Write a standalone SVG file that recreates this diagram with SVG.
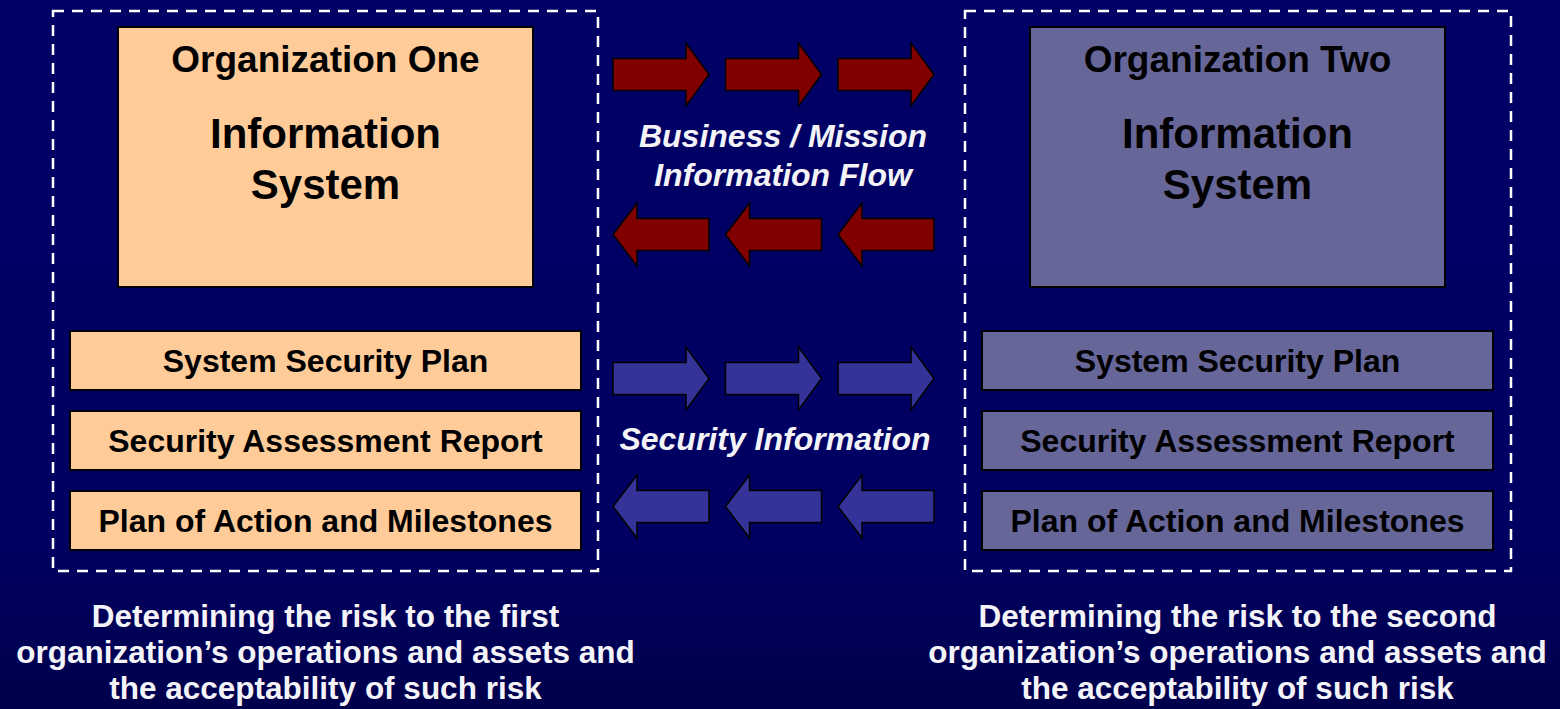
<svg xmlns="http://www.w3.org/2000/svg" xmlns:xlink="http://www.w3.org/1999/xlink" width="1560" height="709" viewBox="0 0 1560 709">
  <style>
    .dash { fill: none; stroke: #ffffff; stroke-width: 2.5; stroke-dasharray: 11 8; }
    .org1 { fill: #ffcc99; stroke: #000000; stroke-width: 2; }
    .org2 { fill: #666699; stroke: #000000; stroke-width: 2; }
    .t { font-family: "Liberation Sans", Arial, sans-serif; font-weight: bold; text-anchor: middle; }
    .black { fill: #000000; }
    .white { fill: #f4f4f8; }
    .red { fill: #800000; stroke: #000000; stroke-width: 1.5; stroke-linejoin: miter; }
    .blue { fill: #333399; stroke: #000000; stroke-width: 1.5; stroke-linejoin: miter; }
  </style>
  <defs>
    <linearGradient id="bg" x1="0" y1="0" x2="0" y2="1">
      <stop offset="0" stop-color="#000066"/>
      <stop offset="0.75" stop-color="#000062"/>
      <stop offset="1" stop-color="#00004c"/>
    </linearGradient>
    <path id="arrR" d="M0,-16 H73 V-31.5 L96,0 L73,31.5 V16 H0 Z"/>
    <path id="arrL" d="M0,0 L24,-31.5 V-16 H96 V16 H24 V31.5 Z"/>
  </defs>
  <rect x="0" y="0" width="1560" height="709" fill="url(#bg)"/>

  <g id="org1-boundary">
    <rect class="dash" x="53" y="11" width="545" height="560"/>
  </g>
  <g id="org2-boundary">
    <rect class="dash" x="965" y="11" width="546" height="560"/>
  </g>

  <g id="org1-system">
    <rect class="org1" x="118" y="27" width="415" height="260"/>
    <text class="t black" x="325.5" y="72" font-size="37">Organization One</text>
    <text class="t black" x="325.5" y="148" font-size="42">Information</text>
    <text class="t black" x="325.5" y="199" font-size="42">System</text>
  </g>
  <g id="org1-ssp">
    <rect class="org1" x="70" y="331" width="511" height="59"/>
    <text class="t black" x="325.5" y="372" font-size="32">System Security Plan</text>
  </g>
  <g id="org1-sar">
    <rect class="org1" x="70" y="411" width="511" height="59"/>
    <text class="t black" x="325.5" y="452" font-size="32">Security Assessment Report</text>
  </g>
  <g id="org1-poam">
    <rect class="org1" x="70" y="491" width="511" height="59"/>
    <text class="t black" x="325.5" y="532" font-size="32">Plan of Action and Milestones</text>
  </g>

  <g id="org2-system">
    <rect class="org2" x="1030" y="27" width="415" height="260"/>
    <text class="t black" x="1237.5" y="72" font-size="37">Organization Two</text>
    <text class="t black" x="1237.5" y="148" font-size="42">Information</text>
    <text class="t black" x="1237.5" y="199" font-size="42">System</text>
  </g>
  <g id="org2-ssp">
    <rect class="org2" x="982" y="331" width="511" height="59"/>
    <text class="t black" x="1237.5" y="372" font-size="32">System Security Plan</text>
  </g>
  <g id="org2-sar">
    <rect class="org2" x="982" y="411" width="511" height="59"/>
    <text class="t black" x="1237.5" y="452" font-size="32">Security Assessment Report</text>
  </g>
  <g id="org2-poam">
    <rect class="org2" x="982" y="491" width="511" height="59"/>
    <text class="t black" x="1237.5" y="532" font-size="32">Plan of Action and Milestones</text>
  </g>

  <g id="connectors">
    <use xlink:href="#arrR" href="#arrR" class="red" transform="translate(613,74.5)"/>
    <use xlink:href="#arrR" href="#arrR" class="red" transform="translate(725.5,74.5)"/>
    <use xlink:href="#arrR" href="#arrR" class="red" transform="translate(838,74.5)"/>
    <use xlink:href="#arrL" href="#arrL" class="red" transform="translate(613,234.5)"/>
    <use xlink:href="#arrL" href="#arrL" class="red" transform="translate(725.5,234.5)"/>
    <use xlink:href="#arrL" href="#arrL" class="red" transform="translate(838,234.5)"/>
    <use xlink:href="#arrR" href="#arrR" class="blue" transform="translate(613,378.5)"/>
    <use xlink:href="#arrR" href="#arrR" class="blue" transform="translate(725.5,378.5)"/>
    <use xlink:href="#arrR" href="#arrR" class="blue" transform="translate(838,378.5)"/>
    <use xlink:href="#arrL" href="#arrL" class="blue" transform="translate(613,506.5)"/>
    <use xlink:href="#arrL" href="#arrL" class="blue" transform="translate(725.5,506.5)"/>
    <use xlink:href="#arrL" href="#arrL" class="blue" transform="translate(838,506.5)"/>
  </g>

  <g id="flow-labels">
    <text class="t white" x="783" y="147" font-size="32" font-style="italic">Business / Mission</text>
    <text class="t white" x="783" y="186" font-size="32" font-style="italic">Information Flow</text>
    <text class="t white" x="775" y="450" font-size="32" font-style="italic">Security Information</text>
  </g>

  <g id="org1-risk">
    <text class="t white" x="325.5" y="627" font-size="31.5">Determining the risk to the first</text>
    <text class="t white" x="325.5" y="663" font-size="31.5">organization’s operations and assets and</text>
    <text class="t white" x="325.5" y="699" font-size="31.5">the acceptability of such risk</text>
  </g>
  <g id="org2-risk">
    <text class="t white" x="1237.5" y="627" font-size="31.5">Determining the risk to the second</text>
    <text class="t white" x="1237.5" y="663" font-size="31.5">organization’s operations and assets and</text>
    <text class="t white" x="1237.5" y="699" font-size="31.5">the acceptability of such risk</text>
  </g>
</svg>
